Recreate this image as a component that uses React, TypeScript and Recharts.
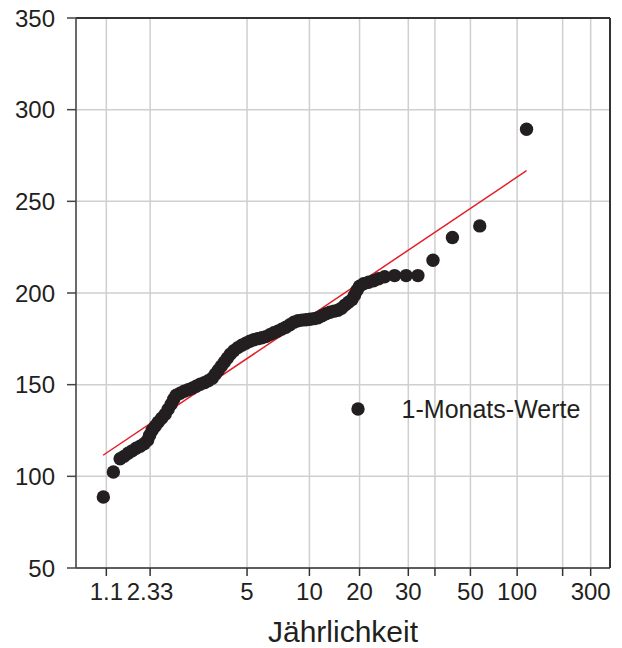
import React from "react";
import {
  ScatterChart,
  Scatter,
  XAxis,
  YAxis,
  CartesianGrid,
  ReferenceLine,
  Legend,
} from "recharts";

// x is the position on the probability paper (0 = left edge, 100 = right edge)
const xTickPos = [5.68, 13.88, 32.03, 43.71, 53.1, 62.23, 67.22, 73.86, 82.61, 91.13, 96.38];
const xTickLabels = ["1.1", "2.33", "5", "10", "20", "30", "", "50", "100", "", "300"];
const yTicks = [50, 100, 150, 200, 250, 300, 350];

// 1-Monats-Werte
const pointPos = [
  5.12, 7.0, 8.26, 9.01, 9.76, 10.51, 11.26, 12.01, 12.76, 13.41,
  13.79, 14.26, 14.82, 15.38, 16.04, 16.7, 17.26, 17.82, 18.29, 18.76,
  19.51, 20.26, 21.01, 21.76, 22.51, 23.26, 24.02, 24.77, 25.52, 26.08,
  26.64, 27.2, 27.77, 28.33, 28.89, 29.55, 30.3, 31.05, 31.8, 32.55,
  33.3, 34.05, 34.8, 35.55, 36.3, 37.05, 37.8, 38.56, 39.31, 40.06,
  40.81, 41.56, 42.31, 43.06, 43.81, 44.56, 45.31, 46.06, 46.81, 47.56,
  48.31, 49.06, 49.72, 50.38, 51.03, 51.69, 52.16, 52.63, 53.1, 53.85,
  54.78, 55.72, 56.66, 57.79, 59.66, 61.82, 64.03, 66.85, 70.49, 75.61,
  84.37,
];
const pointVal = [
  88.7, 102.4, 109.6, 110.9, 112.6, 113.9, 115.3, 116.4, 117.8, 119.7,
  122.4, 125.1, 127.3, 129.5, 131.7, 133.9, 136.6, 139.3, 142.1, 144.2,
  145.3, 146.4, 147.2, 148.1, 149.1, 150.2, 151.1, 152.1, 153.5, 155.7,
  157.9, 160.1, 162.2, 164.4, 166.6, 168.5, 170.2, 171.5, 172.6, 173.7,
  174.5, 175.1, 175.6, 176.2, 177.3, 178.3, 179.2, 180.3, 181.3, 182.7,
  184.1, 184.9, 185.2, 185.4, 185.7, 186.0, 186.5, 187.6, 188.7, 189.5,
  190.1, 190.6, 191.7, 193.4, 195.0, 196.4, 198.8, 201.5, 203.7, 205.1,
  205.9, 206.7, 207.8, 208.9, 209.5, 209.5, 209.5, 217.9, 230.3, 236.6,
  289.3,
];

// fitted line (ends)
const fitPos = [5.07, 84.37];
const fitVal = [111.5, 266.7];

const data = pointPos.map((p, i) => ({ pos: p, val: pointVal[i] }));

const FONT = '"Liberation Sans", Arial, Helvetica, sans-serif';
const INK = "#231f20";

const Dot = (props: any) => <circle cx={props.cx} cy={props.cy} r={6.7} fill={INK} />;

const LegendBox = () => (
  <div style={{ display: "flex", alignItems: "center", height: 30 }}>
    <svg width={14} height={14} style={{ marginLeft: 0.6 }}>
      <circle cx={7} cy={7} r={6.7} fill={INK} />
    </svg>
    <span style={{ marginLeft: 37, fontSize: 25, lineHeight: "30px", color: INK }}>1-Monats-Werte</span>
  </div>
);

export default function App() {
  return (
    <div style={{ position: "absolute", left: 0, top: 0, fontFamily: FONT }}>
      <ScatterChart width={622} height={648} margin={{ top: 18, right: 12, bottom: 0, left: 0 }}>
        <CartesianGrid stroke="#cfcfcf" strokeWidth={1.5} />
        <XAxis
          type="number"
          dataKey="pos"
          domain={[0, 100]}
          ticks={xTickPos}
          interval={0}
          tickFormatter={(v: number) => xTickLabels[xTickPos.findIndex((t) => Math.abs(t - v) < 1e-6)] ?? ""}
          height={80}
          tickSize={8}
          tickMargin={7}
          tick={{ fontSize: 24, fill: INK }}
          axisLine={{ stroke: "#333", strokeWidth: 1.5 }}
          tickLine={{ stroke: "#333", strokeWidth: 1.5 }}
          label={{ value: "Jährlichkeit", position: "insideBottom", offset: 6, fontSize: 30, fill: INK }}
        />
        <YAxis
          type="number"
          dataKey="val"
          domain={[50, 350]}
          ticks={yTicks}
          interval={0}
          width={76}
          tickSize={9}
          tickMargin={12}
          tick={{ fontSize: 24, fill: INK }}
          axisLine={{ stroke: "#444", strokeWidth: 1.5 }}
          tickLine={{ stroke: "#444", strokeWidth: 1.5 }}
        />
        <ReferenceLine y={350} stroke="#333" strokeWidth={2} />
        <ReferenceLine x={100} stroke="#333" strokeWidth={2} />
        <ReferenceLine
          segment={[
            { x: fitPos[0], y: fitVal[0] },
            { x: fitPos[1], y: fitVal[1] },
          ]}
          stroke="#e41e26"
          strokeWidth={1.5}
        />
        <Scatter name="1-Monats-Werte" data={data} shape={Dot} isAnimationActive={false} />
        <Legend
          layout="vertical"
          align="center"
          verticalAlign="middle"
          content={LegendBox}
          wrapperStyle={{ position: "absolute", left: 350, top: 394, width: 260, height: 30 }}
        />
      </ScatterChart>
    </div>
  );
}
